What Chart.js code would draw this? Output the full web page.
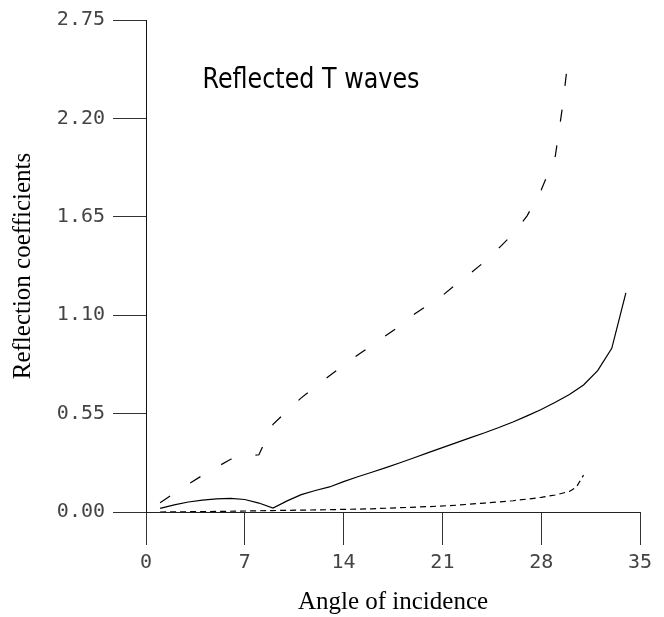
<!DOCTYPE html>
<html>
<head>
<meta charset="utf-8">
<title>Reflected T waves</title>
<script src="https://cdn.jsdelivr.net/npm/chart.js@4.4.1/dist/chart.umd.min.js"></script>
<style>
  html, body { margin: 0; padding: 0; background: #fff; }
  #wrap { width: 664px; height: 617px; }
</style>
</head>
<body>
<div id="wrap"><canvas id="coefChart" width="664" height="617"></canvas></div>
<script>
// angle of incidence (deg) -> reflection coefficient, one pair of arrays per curve
const solidAngles = [1, 2, 3, 4, 5, 6, 7, 8, 9, 10, 11, 12, 13, 14, 15, 16, 17, 18, 19, 20,
                     21, 22, 23, 24, 25, 26, 27, 28, 29, 30, 31, 32, 33, 34];
const solidCoefs = [0.02, 0.04, 0.056, 0.066, 0.073, 0.076, 0.07, 0.05, 0.022, 0.062,
                    0.097, 0.12, 0.14, 0.17, 0.197, 0.222, 0.248, 0.275, 0.303, 0.332,
                    0.36, 0.388, 0.416, 0.443, 0.472, 0.503, 0.537, 0.573, 0.613, 0.657,
                    0.71, 0.79, 0.915, 1.225];

const longDashAngles = [1, 2, 3, 4, 5, 6, 7, 8, 9, 10, 11, 12, 13, 14, 15, 16, 17, 18, 19, 20,
                        21, 22, 23, 24, 25, 26, 27, 28, 29, 29.5, 29.8, 30];
const longDashCoefs = [0.052, 0.105, 0.155, 0.205, 0.25, 0.295, 0.31, 0.32, 0.49, 0.565,
                       0.638, 0.70, 0.762, 0.82, 0.877, 0.932, 0.986, 1.04, 1.105, 1.157,
                       1.21, 1.275, 1.335, 1.40, 1.475, 1.555, 1.655, 1.80, 1.99, 2.26,
                       2.46, 2.54];

const shortDashAngles = [1, 5, 9, 13, 16, 18, 20, 22, 24, 25, 26, 27, 28, 29, 30, 30.5, 31];
const shortDashCoefs = [0.0, 0.003, 0.008, 0.013, 0.018, 0.024, 0.03, 0.038, 0.05, 0.056,
                        0.063, 0.072, 0.082, 0.095, 0.115, 0.14, 0.206];

const xTicks = [0, 7, 14, 21, 28, 35];
const yTicks = [0, 0.55, 1.10, 1.65, 2.20, 2.75];

function toPoints(xs, ys) {
  return xs.map((x, i) => ({ x: x, y: ys[i] }));
}

function curve(label, xs, ys, dash) {
  return {
    label: label,
    data: toPoints(xs, ys),
    borderColor: '#000',
    borderWidth: 1.2,
    borderDash: dash,
    pointRadius: 0,
    tension: 0,
    fill: false
  };
}

// text label inside the plot, placed in data coordinates
const plotLabel = {
  id: 'plotLabel',
  afterDraw(chart) {
    const ctx = chart.ctx;
    const px = chart.scales.x.getPixelForValue(4.0);
    const py = chart.scales.y.getPixelForValue(2.37);
    const text = 'Reflected T waves';
    ctx.save();
    ctx.font = '28px "DejaVu Sans"';
    ctx.fillStyle = '#000';
    ctx.textBaseline = 'alphabetic';
    ctx.textAlign = 'left';
    const squeeze = 217 / ctx.measureText(text).width;
    ctx.translate(px, py);
    ctx.scale(squeeze, 1);
    ctx.fillText(text, 0, 0);
    ctx.restore();
  }
};

const tickFont = { family: '"DejaVu Sans Mono", monospace', size: 20 };
const titleFont = { family: '"Liberation Serif", serif', size: 25 };

new Chart(document.getElementById('coefChart'), {
  type: 'line',
  data: {
    datasets: [
      curve('Solid', solidAngles, solidCoefs, []),
      curve('Long dash', longDashAngles, longDashCoefs, [12, 24]),
      curve('Short dash', shortDashAngles, shortDashCoefs, [6, 4])
    ]
  },
  options: {
    responsive: false,
    animation: false,
    layout: { padding: { top: 19, right: 24, bottom: 0, left: 0 } },
    plugins: {
      legend: { display: false },
      tooltip: { enabled: false }
    },
    scales: {
      x: {
        type: 'linear',
        min: 0,
        max: 35,
        afterBuildTicks: s => { s.ticks = xTicks.map(v => ({ value: v })); },
        afterFit: s => { s.height = 105; },
        grid: { drawOnChartArea: false, drawTicks: true, tickLength: 33, tickColor: '#333' },
        border: { display: true, color: '#222', width: 1 },
        ticks: {
          font: tickFont,
          color: '#444',
          padding: 6,
          maxRotation: 0,
          callback: v => String(v)
        },
        title: {
          display: true,
          text: 'Angle of incidence',
          font: titleFont,
          color: '#000',
          padding: { top: 0, bottom: 0 }
        }
      },
      y: {
        type: 'linear',
        min: 0,
        max: 2.75,
        afterBuildTicks: s => { s.ticks = yTicks.map(v => ({ value: v })); },
        afterFit: s => { s.width = 146; },
        grid: { drawOnChartArea: false, drawTicks: true, tickLength: 33, tickColor: '#333' },
        border: { display: true, color: '#111', width: 1 },
        ticks: {
          font: tickFont,
          color: '#444',
          padding: 8,
          callback: v => v.toFixed(2)
        },
        title: {
          display: true,
          text: 'Reflection coefficients',
          font: titleFont,
          color: '#000',
          padding: { top: 8, bottom: 0 }
        }
      }
    }
  },
  plugins: [plotLabel]
});
</script>
</body>
</html>
